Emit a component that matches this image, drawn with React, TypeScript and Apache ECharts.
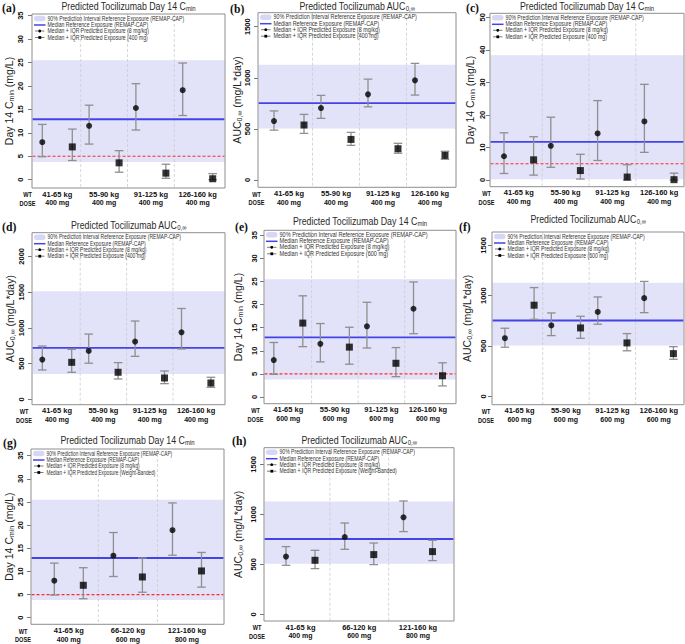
import React, { useEffect, useRef } from "react";
import * as echarts from "echarts";

const FONT = '"Liberation Sans", Arial, Helvetica, sans-serif';
const SERIF = '"Liberation Serif", "Times New Roman", serif';

// ---------- categories ----------
const WT_4 = ["41-65 kg", "55-90 kg", "91-125 kg", "126-160 kg"];
const WT_3 = ["41-65 kg", "66-120 kg", "121-160 kg"];
const DOSE_400 = ["400 mg", "400 mg", "400 mg", "400 mg"];
const DOSE_600 = ["600 mg", "600 mg", "600 mg", "600 mg"];
const DOSE_WB = ["400 mg", "600 mg", "800 mg"];

// ---------- tick labels ----------
const TICKS_CMIN = [0, 5, 10, 15, 20, 25, 30, 35];
const TICKS_CMIN_C = [0, 10, 20, 30, 40, 50];
const TICKS_AUC = [0, 500, 1000, 1500];
const TICKS_AUC_D = [0, 500, 1000, 1500, 2000];

// ---------- reference exposure (REMAP-CAP) ----------
const CMIN_REF_BAND = [3.8, 25.5];
const CMIN_REF_MEDIAN = 12.9;
const CMIN_TARGET = 5;
const AUC_REF_BAND = [505, 1127];
const AUC_REF_MEDIAN = 753;
const CMIN_C_REF_BAND = [0.2, 38.3];
const CMIN_C_REF_MEDIAN = 11.7;
const AUC_D_REF_BAND = [354, 1510];
const AUC_D_REF_MEDIAN = 718;

// ---------- Day 14 Cmin, panels (a)/(e) ----------
const CMIN_KG_MED = [8.0, 11.5, 15.3, 19.1];
const CMIN_KG_Q1 = [4.9, 7.6, 10.6, 13.7];
const CMIN_KG_Q3 = [11.8, 15.9, 20.5, 24.9];
const CMIN_400_MED = [7.0, 3.6, 1.4, 0.2];
const CMIN_400_Q1 = [4.1, 1.6, 0.3, 0.0];
const CMIN_400_Q3 = [10.8, 6.2, 3.3, 1.3];
const CMIN_600_MED = [16.0, 10.8, 7.3, 4.6];
const CMIN_600_Q1 = [10.9, 7.1, 4.4, 2.4];
const CMIN_600_Q3 = [21.9, 15.1, 10.7, 7.4];

// ---------- AUC, panels (b)/(f) ----------
const AUC_KG_MED = [577, 704, 838, 975];
const AUC_KG_Q1 = [488, 603, 716, 831];
const AUC_KG_Q3 = [676, 828, 987, 1141];
const AUC_400_MED = [538, 397, 306, 241];
const AUC_400_Q1 = [456, 339, 262, 203];
const AUC_400_Q3 = [642, 466, 359, 281];
const AUC_600_MED = [905, 679, 530, 424];
const AUC_600_Q1 = [765, 576, 452, 368];
const AUC_600_Q3 = [1080, 795, 623, 493];

// ---------- panel (c) ----------
const CMIN_C_KG_MED = [7.3, 10.5, 14.3, 18.0];
const CMIN_C_KG_Q1 = [2.0, 3.9, 6.0, 8.5];
const CMIN_C_KG_Q3 = [14.5, 19.3, 24.4, 29.4];
const CMIN_C_400_MED = [6.2, 2.9, 0.9, 0.1];
const CMIN_C_400_Q1 = [1.5, 0.3, 0.0, 0.0];
const CMIN_C_400_Q3 = [13.3, 7.9, 4.7, 2.1];

// ---------- panel (d) ----------
const AUC_D_KG_MED = [555, 676, 807, 937];
const AUC_D_KG_Q1 = [410, 505, 601, 704];
const AUC_D_KG_Q3 = [745, 912, 1095, 1270];
const AUC_D_400_MED = [517, 378, 298, 228];
const AUC_D_400_Q1 = [378, 284, 219, 168];
const AUC_D_400_Q3 = [699, 513, 396, 308];

// ---------- weight-banded, panels (g)/(h) ----------
const CMIN_WB_KG_MED = [8.0, 13.4, 18.9];
const CMIN_WB_KG_Q1 = [4.9, 8.9, 13.5];
const CMIN_WB_KG_Q3 = [11.8, 18.4, 24.8];
const CMIN_WB_MED = [7.0, 8.8, 10.1];
const CMIN_WB_Q1 = [4.1, 5.5, 6.6];
const CMIN_WB_Q3 = [10.8, 12.9, 14.1];
const AUC_WB_KG_MED = [577, 773, 970];
const AUC_WB_KG_Q1 = [490, 650, 827];
const AUC_WB_KG_Q3 = [677, 913, 1133];
const AUC_WB_MED = [540, 597, 627];
const AUC_WB_Q1 = [457, 497, 537];
const AUC_WB_Q3 = [640, 713, 740];

// ---------- legend texts ----------
const LEG_BAND = "90% Prediction Interval Reference Exposure (REMAP-CAP)";
const LEG_MED = "Median Reference Exposure (REMAP-CAP)";
const LEG_KG = "Median + IQR Predicted Exposure (8 mg/kg)";
const LEG_FIX = "Median + IQR Predicted Exposure ";

// ---------- styles ----------
const BAND_FILL = "#e2e2f9";
const LEG_BAND_FILL = "#d6d6f6";
const MED_COLOR = "#4343e8";
const TARGET_COLOR = "#ff2b2b";
const BAR_COLOR = "#8f8f8f";
const FRAME_COLOR = "#8e8e8e";

type Panel = {
  tag: string; kind: "cmin" | "auc";
  left: number; right: number; top: number; bottom: number;
  y0: number; yT: number; ticks: number[];
  c1: number; cN: number; off: number;
  wt: string[]; dose: string[];
  kg: number[][]; fixed: number[][];
  band: number[]; refMed: number; target: number | null; last: string;
  titleY: number; tagX: number; tagY: number;
  nameGap: number; labelGap: number; legW: number; wtX: number;
};

const PANELS: Panel[] = [
  { tag: "(a)", kind: "cmin", left: 32, right: 225, top: 14, bottom: 188, y0: 179.7, yT: 15.7, ticks: TICKS_CMIN,
    c1: 57.3, cN: 197.7, off: 15, wt: WT_4, dose: DOSE_400,
    kg: [CMIN_KG_MED, CMIN_KG_Q1, CMIN_KG_Q3], fixed: [CMIN_400_MED, CMIN_400_Q1, CMIN_400_Q3],
    band: CMIN_REF_BAND, refMed: CMIN_REF_MEDIAN, target: CMIN_TARGET, last: "(400 mg)",
    titleY: 6, tagX: 2, tagY: 8, nameGap: 22, labelGap: 12, legW: 139, wtX: 27.5 },
  { tag: "(b)", kind: "auc", left: 258, right: 456, top: 12.7, bottom: 187.3, y0: 180, yT: 26.7, ticks: TICKS_AUC,
    c1: 289, cN: 430, off: 15, wt: WT_4, dose: DOSE_400,
    kg: [AUC_KG_MED, AUC_KG_Q1, AUC_KG_Q3], fixed: [AUC_400_MED, AUC_400_Q1, AUC_400_Q3],
    band: AUC_REF_BAND, refMed: AUC_REF_MEDIAN, target: null, last: "(400 mg)",
    titleY: 6, tagX: 230, tagY: 9, nameGap: 18, labelGap: 10.6, legW: 146, wtX: 256.5 },
  { tag: "(c)", kind: "cmin", left: 490, right: 684, top: 13.3, bottom: 186.7, y0: 180, yT: 17.3, ticks: TICKS_CMIN_C,
    c1: 518.8, cN: 659.2, off: 14.8, wt: WT_4, dose: DOSE_400,
    kg: [CMIN_C_KG_MED, CMIN_C_KG_Q1, CMIN_C_KG_Q3], fixed: [CMIN_C_400_MED, CMIN_C_400_Q1, CMIN_C_400_Q3],
    band: CMIN_C_REF_BAND, refMed: CMIN_C_REF_MEDIAN, target: CMIN_TARGET, last: "(400 mg)",
    titleY: 6, tagX: 466, tagY: 8, nameGap: 20, labelGap: 8, legW: 141, wtX: 486.5 },
  { tag: "(d)", kind: "auc", left: 32, right: 225, top: 232.7, bottom: 404.7, y0: 399.3, yT: 256.3, ticks: TICKS_AUC_D,
    c1: 57, cN: 196.2, off: 14.7, wt: WT_4, dose: DOSE_400,
    kg: [AUC_D_KG_MED, AUC_D_KG_Q1, AUC_D_KG_Q3], fixed: [AUC_D_400_MED, AUC_D_400_Q1, AUC_D_400_Q3],
    band: AUC_D_REF_BAND, refMed: AUC_D_REF_MEDIAN, target: null, last: "(400 mg)",
    titleY: 225, tagX: 2, tagY: 227, nameGap: 22, labelGap: 10.3, legW: 136, wtX: 24 },
  { tag: "(e)", kind: "cmin", left: 264, right: 456, top: 230.3, bottom: 403.7, y0: 397, yT: 235.3, ticks: TICKS_CMIN,
    c1: 288.3, cN: 428, off: 14.5, wt: WT_4, dose: DOSE_600,
    kg: [CMIN_KG_MED, CMIN_KG_Q1, CMIN_KG_Q3], fixed: [CMIN_600_MED, CMIN_600_Q1, CMIN_600_Q3],
    band: CMIN_REF_BAND, refMed: CMIN_REF_MEDIAN, target: CMIN_TARGET, last: "(600 mg)",
    titleY: 221, tagX: 235, tagY: 227, nameGap: 26, labelGap: 10, legW: 151, wtX: 255.5 },
  { tag: "(f)", kind: "auc", left: 492, right: 684, top: 232, bottom: 404.7, y0: 396.3, yT: 245.3, ticks: TICKS_AUC,
    c1: 519.5, cN: 658.8, off: 14.6, wt: WT_4, dose: DOSE_600,
    kg: [AUC_KG_MED, AUC_KG_Q1, AUC_KG_Q3], fixed: [AUC_600_MED, AUC_600_Q1, AUC_600_Q3],
    band: AUC_REF_BAND, refMed: AUC_REF_MEDIAN, target: null, last: "(600 mg)",
    titleY: 219, tagX: 459, tagY: 227, nameGap: 25, labelGap: 9, legW: 140, wtX: 486 },
  { tag: "(g)", kind: "cmin", left: 31, right: 224, top: 449, bottom: 624.3, y0: 617.7, yT: 455.7, ticks: TICKS_CMIN,
    c1: 68.8, cN: 187, off: 14.5, wt: WT_3, dose: DOSE_WB,
    kg: [CMIN_WB_KG_MED, CMIN_WB_KG_Q1, CMIN_WB_KG_Q3], fixed: [CMIN_WB_MED, CMIN_WB_Q1, CMIN_WB_Q3],
    band: CMIN_REF_BAND, refMed: CMIN_REF_MEDIAN, target: CMIN_TARGET, last: "(Weight-Banded)",
    titleY: 440, tagX: 3, tagY: 443, nameGap: 21, labelGap: 10.7, legW: 128, wtX: 23 },
  { tag: "(h)", kind: "auc", left: 264, right: 454, top: 447.7, bottom: 621, y0: 614.3, yT: 464.3, ticks: TICKS_AUC,
    c1: 300.5, cN: 418, off: 14.5, wt: WT_3, dose: DOSE_WB,
    kg: [AUC_WB_KG_MED, AUC_WB_KG_Q1, AUC_WB_KG_Q3], fixed: [AUC_WB_MED, AUC_WB_Q1, AUC_WB_Q3],
    band: AUC_REF_BAND, refMed: AUC_REF_MEDIAN, target: null, last: "(Weight-Banded)",
    titleY: 440, tagX: 232, tagY: 441, nameGap: 26, labelGap: 11, legW: 138, wtX: 257 },
];

const renderBand = (params: any, api: any) => {
  const cs = params.coordSys;
  const yHi = api.coord([api.value(0), api.value(2)])[1];
  const yLo = api.coord([api.value(0), api.value(1)])[1];
  return { type: "rect", shape: { x: cs.x + 0.5, y: yHi, width: cs.width - 1, height: yLo - yHi }, style: { fill: BAND_FILL } };
};
const makeHLine = (stroke: string, lineWidth: number, lineDash: number[] | null) => (params: any, api: any) => {
  const cs = params.coordSys;
  const y = api.coord([api.value(0), api.value(1)])[1];
  return { type: "line", shape: { x1: cs.x + 0.5, y1: y, x2: cs.x + cs.width - 0.5, y2: y }, style: { stroke, lineWidth, lineDash } };
};
const renderSep = (params: any, api: any) => {
  const cs = params.coordSys;
  const x = api.coord([api.value(0), api.value(1)])[0];
  return { type: "line", shape: { x1: x, y1: cs.y, x2: x, y2: cs.y + cs.height }, style: { stroke: "#cdcdcd", lineWidth: 0.8, lineDash: [3, 2] } };
};
const renderErr = (params: any, api: any) => {
  const x = api.value(0);
  const pLo = api.coord([x, api.value(1)]);
  const pHi = api.coord([x, api.value(2)]);
  const w = 4.3;
  const style = { stroke: BAR_COLOR, lineWidth: 1.3 };
  return {
    type: "group",
    children: [
      { type: "line", shape: { x1: pLo[0], y1: pLo[1], x2: pHi[0], y2: pHi[1] }, style },
      { type: "line", shape: { x1: pLo[0] - w, y1: pLo[1], x2: pLo[0] + w, y2: pLo[1] }, style },
      { type: "line", shape: { x1: pHi[0] - w, y1: pHi[1], x2: pHi[0] + w, y2: pHi[1] }, style },
    ],
  };
};
const renderFrame = (params: any) => {
  const cs = params.coordSys;
  return { type: "rect", shape: { x: cs.x, y: cs.y, width: cs.width, height: cs.height }, style: { fill: "none", stroke: FRAME_COLOR, lineWidth: 1 } };
};

const subRich = (size: number, pad: number) => ({ fontSize: size, fontWeight: "normal", fontFamily: FONT, color: "#222", fill: "#222", padding: [pad, 0, 0, 0] });

function buildOption() {
  const grid: any[] = [], xAxis: any[] = [], yAxis: any[] = [], series: any[] = [], graphic: any[] = [];
  PANELS.forEach((p, i) => {
    const n = p.wt.length;
    const sp = (p.cN - p.c1) / (n - 1);
    const xmin = 1 - (p.c1 - p.left) / sp;
    const xmax = n + (p.right - p.cN) / sp;
    const topTick = p.ticks[p.ticks.length - 1];
    const ppu = (p.y0 - p.yT) / topTick;
    const ymin = -(p.bottom - p.y0) / ppu;
    const ymax = topTick + (p.yT - p.top) / ppu;
    const offU = p.off / sp;
    const cats = p.wt.map((_, k) => k + 1);

    grid.push({ left: p.left, top: p.top, width: p.right - p.left, height: p.bottom - p.top, show: false, containLabel: false, outerBoundsMode: "none" });
    xAxis.push({
      type: "value", gridIndex: i, min: xmin, max: xmax,
      axisLine: { show: false }, axisTick: { show: false }, splitLine: { show: false },
      axisLabel: {
        customValues: cats, margin: 2, fontFamily: FONT, color: "#111",
        formatter: (v: number) => { const k = Math.round(v) - 1; return `{w|${p.wt[k]}}\n{d|${p.dose[k]}}`; },
        rich: {
          w: { fontSize: 7.5, fontWeight: "bold", fontFamily: FONT, color: "#111", lineHeight: 8.5 },
          d: { fontSize: 7, fontWeight: "bold", fontFamily: FONT, color: "#111", lineHeight: 8.5 },
        },
      },
    });
    yAxis.push({
      type: "value", gridIndex: i, min: ymin, max: ymax,
      axisLine: { show: false }, splitLine: { show: false },
      axisTick: { show: true, customValues: p.ticks, length: 4, lineStyle: { color: "#777", width: 1 } },
      axisLabel: {
        customValues: p.ticks, rotate: 90, fontSize: 7.5, fontWeight: "bold", color: "#111", fontFamily: FONT, margin: p.labelGap - 4,
        formatter: (v: number) => String(Math.round(v)),
      },
      name: p.kind === "cmin" ? "Day 14 C{sub|min} (mg/L)" : "AUC{sub|0,\u221e} (mg/L*day)",
      nameLocation: "middle", nameRotate: 90, nameGap: p.nameGap - 6,
      nameTextStyle: { fontSize: 10.5, fontWeight: "normal", fontFamily: FONT, color: "#222", rich: { sub: subRich(7, 5) } },
    });
    const ax = { xAxisIndex: i, yAxisIndex: i, silent: true, animation: false };
    series.push({ type: "custom", ...ax, z: 1, data: [[1, p.band[0], p.band[1]]], renderItem: renderBand });
    series.push({ type: "custom", ...ax, z: 2, data: cats.slice(0, -1).map((c) => [c + 0.5, 0]), renderItem: renderSep });
    if (p.target != null) series.push({ type: "custom", ...ax, z: 3, data: [[1, p.target]], renderItem: makeHLine(TARGET_COLOR, 1.2, [3, 2]) });
    series.push({ type: "custom", ...ax, z: 3, data: [[1, p.refMed]], renderItem: makeHLine(MED_COLOR, 1.8, null) });
    const bars = [
      ...p.kg[0].map((_, k) => [k + 1 - offU, p.kg[1][k], p.kg[2][k]]),
      ...p.fixed[0].map((_, k) => [k + 1 + offU, p.fixed[1][k], p.fixed[2][k]]),
    ];
    series.push({ type: "custom", ...ax, z: 4, data: bars, renderItem: renderErr });
    series.push({ type: "scatter", ...ax, z: 5, symbol: "circle", symbolSize: 6, itemStyle: { color: "#000" }, data: p.kg[0].map((v, k) => [k + 1 - offU, v]) });
    series.push({ type: "scatter", ...ax, z: 5, symbol: "rect", symbolSize: 7, itemStyle: { color: "#000" }, data: p.fixed[0].map((v, k) => [k + 1 + offU, v]) });
    series.push({ type: "custom", ...ax, z: 6, data: [[1, 0]], renderItem: renderFrame });

    // title
    const cx = (p.left + p.right) / 2;
    graphic.push({
      type: "text", x: cx, y: p.titleY, scaleX: 0.8, z: 100, silent: true,
      style: {
        text: p.kind === "cmin" ? "Predicted Tocilizumab Day 14 C{sub|min}" : "Predicted Tocilizumab AUC{sub|0,\u221e}",
        fontSize: 11, fontWeight: "normal", fontFamily: FONT, fill: "#2a2a2a", align: "center", verticalAlign: "middle",
        rich: { sub: subRich(7.5, 5) },
      },
    });
    // panel tag
    graphic.push({
      type: "text", x: p.tagX, y: p.tagY, scaleX: 0.9, z: 100, silent: true,
      style: { text: p.tag, fontSize: 13, fontWeight: "bold", fontFamily: SERIF, fill: "#111", align: "left", verticalAlign: "middle" },
    });
    // WT / DOSE row titles
    [["WT", p.bottom + 6.5], ["DOSE", p.bottom + 15]].forEach(([t, y]) => {
      graphic.push({
        type: "text", x: p.wtX, y: y as number, scaleX: 0.75, z: 100, silent: true,
        style: { text: t as string, fontSize: 7.5, fontWeight: "bold", fontFamily: FONT, fill: "#111", align: "center", verticalAlign: "middle" },
      });
    });
    // legend
    const lx = p.left + 2;
    const rows = [4.5, 11, 17, 23.5].map((r) => p.top + r);
    const fs = 6.3;
    const sx = p.legW / (27 * fs);
    const legTexts = [LEG_BAND, LEG_MED, LEG_KG, LEG_FIX + p.last];
    graphic.push({ type: "rect", z: 100, silent: true, shape: { x: lx, y: rows[0] - 2.7, width: 11.5, height: 5.4, r: 2.7 }, style: { fill: LEG_BAND_FILL } });
    graphic.push({ type: "line", z: 100, silent: true, shape: { x1: lx, y1: rows[1], x2: lx + 11.5, y2: rows[1] }, style: { stroke: MED_COLOR, lineWidth: 1.5 } });
    graphic.push({ type: "line", z: 100, silent: true, shape: { x1: lx + 1, y1: rows[2], x2: lx + 10.5, y2: rows[2] }, style: { stroke: "#222", lineWidth: 0.6 } });
    graphic.push({ type: "circle", z: 100, silent: true, shape: { cx: lx + 5.75, cy: rows[2], r: 1.4 }, style: { fill: "#000" } });
    graphic.push({ type: "line", z: 100, silent: true, shape: { x1: lx + 1, y1: rows[3], x2: lx + 10.5, y2: rows[3] }, style: { stroke: "#222", lineWidth: 0.6 } });
    graphic.push({ type: "rect", z: 100, silent: true, shape: { x: lx + 4.4, y: rows[3] - 1.4, width: 2.8, height: 2.8 }, style: { fill: "#000" } });
    legTexts.forEach((t, k) => {
      graphic.push({
        type: "text", x: p.left + 15.5, y: rows[k], scaleX: sx, z: 100, silent: true,
        style: { text: t, fontSize: fs, fontWeight: "normal", fontFamily: FONT, fill: "#333", align: "left", verticalAlign: "middle" },
      });
    });
  });
  return { animation: false, backgroundColor: "#ffffff", grid, xAxis, yAxis, series, graphic };
}

export default function App() {
  const ref = useRef<HTMLDivElement>(null);
  useEffect(() => {
    if (!ref.current) return;
    const chart = echarts.init(ref.current, null, { renderer: "svg" });
    chart.setOption(buildOption() as any);
    return () => chart.dispose();
  }, []);
  return <div ref={ref} style={{ position: "absolute", left: 0, top: 0, width: 685, height: 644, background: "#fff" }} />;
}
